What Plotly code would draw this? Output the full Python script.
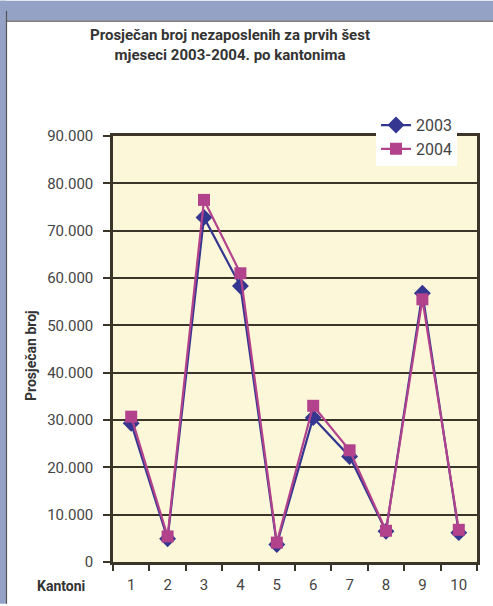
import plotly.graph_objects as go

# ---- data ----
kantoni = ["1", "2", "3", "4", "5", "6", "7", "8", "9", "10"]
y2003 = [29300, 4900, 72800, 58300, 3700, 30500, 22300, 6500, 56800, 6200]
y2004 = [30700, 5400, 76500, 61000, 4100, 33000, 23600, 6600, 55500, 6800]
ytick_vals = [0, 10000, 20000, 30000, 40000, 50000, 60000, 70000, 80000, 90000]

# ---- geometry helpers (pixel -> paper) ----
W, H = 493, 606
L, R, T, B = 113, 477, 136, 564
def px(x):
    return (x - L) / (R - L)
def py(y):
    return (B - y) / (B - T)

FONT = "Roboto, Liberation Sans, sans-serif"
C03 = "#35368F"
C04 = "#B2428C"
FRAME = "#94A2C6"

fig = go.Figure()
fig.add_trace(go.Scatter(
    x=kantoni, y=y2003, name="2003", mode="lines+markers",
    line=dict(color=C03, width=2.2),
    marker=dict(symbol="diamond", size=13, color=C03),
))
fig.add_trace(go.Scatter(
    x=kantoni, y=y2004, name="2004", mode="lines+markers",
    line=dict(color=C04, width=2.2),
    marker=dict(symbol="square", size=12, color=C04),
))

shapes = [
    # blue-gray page frame (top and left)
    dict(type="rect", xref="paper", yref="paper", x0=px(0), x1=px(W), y0=py(20), y1=py(0),
         fillcolor=FRAME, line=dict(width=0)),
    dict(type="rect", xref="paper", yref="paper", x0=px(0), x1=px(6), y0=py(H), y1=py(0),
         fillcolor=FRAME, line=dict(width=0)),
    dict(type="line", xref="paper", yref="paper", x0=px(6), x1=px(W), y0=py(20.5), y1=py(20.5),
         line=dict(color="#555555", width=1.2)),
    dict(type="line", xref="paper", yref="paper", x0=px(6.5), x1=px(6.5), y0=py(10.5), y1=py(H),
         line=dict(color="#555555", width=1.2)),
]

fig.update_layout(
    width=W, height=H,
    margin=dict(l=L, r=W - R, t=T, b=H - B, pad=0),
    paper_bgcolor="white",
    plot_bgcolor="#FDF7DA",
    separators=",.",
    title=dict(
        text="Prosječan broj nezaposlenih za prvih šest<br>mjeseci 2003-2004. po kantonima",
        x=230 / W, xanchor="center", xref="container",
        y=1 - 40 / H, yanchor="top", yref="container",
        font=dict(family=FONT, size=15, color="#333333", weight="bold"),
    ),
    xaxis=dict(
        type="category", range=[-0.5, 9.5],
        showgrid=False, ticks="outside", tickson="boundaries", ticklen=6, tickwidth=2,
        tickcolor="#3A3528", ticklabelstandoff=7,
        showline=True, linecolor="#3A3528", linewidth=2.5, mirror=True,
        tickfont=dict(family=FONT, size=15, color="#444444"),
        fixedrange=True,
    ),
    yaxis=dict(
        range=[0, 90000], tickvals=ytick_vals, tickformat=",d",
        showgrid=True, gridcolor="#3A3528", gridwidth=2,
        ticks="outside", ticklen=7, tickwidth=2, tickcolor="#3A3528",
        ticklabelstandoff=7,
        showline=True, linecolor="#3A3528", linewidth=2.5, mirror=True,
        zeroline=False,
        tickfont=dict(family=FONT, size=15, color="#444444"),
        fixedrange=True,
    ),
    legend=dict(
        x=px(376), y=py(108), xanchor="left", yanchor="top",
        bgcolor="white", borderwidth=0,
        font=dict(family=FONT, size=16, color="#444444"),
        tracegroupgap=0,
    ),
    shapes=shapes,
    annotations=[
        dict(text="<b>Kantoni</b>", xref="paper", yref="paper", x=px(61), y=py(588),
             xanchor="center", yanchor="middle", showarrow=False,
             font=dict(family=FONT, size=14, color="#333333")),
        dict(text="<b>Prosječan broj</b>", xref="paper", yref="paper", x=px(31), y=py(357),
             xanchor="center", yanchor="middle", showarrow=False, textangle=-90,
             font=dict(family=FONT, size=14, color="#333333")),
    ],
)

fig.write_html("out.html", config={"displayModeBar": False},
               post_script="document.body.style.margin='0';")
